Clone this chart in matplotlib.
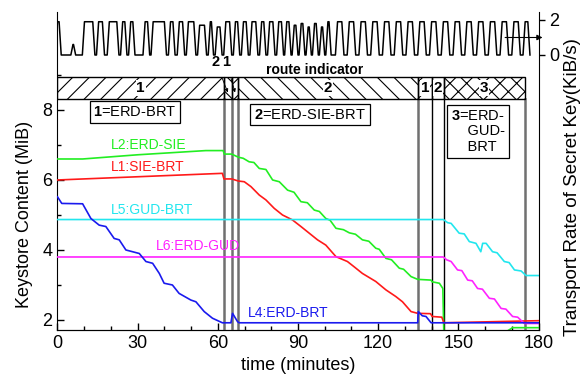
import matplotlib
matplotlib.use('Agg')
import matplotlib.pyplot as plt
from matplotlib.patches import Rectangle
from matplotlib.ticker import MultipleLocator

plt.rcParams['font.family'] = ['Liberation Sans', 'DejaVu Sans']
plt.rcParams['mathtext.fontset'] = 'custom'
plt.rcParams['mathtext.rm'] = 'Liberation Sans'
plt.rcParams['mathtext.bf'] = 'Liberation Sans:bold'
plt.rcParams['hatch.linewidth'] = 0.8

# keystore content of each link (time in minutes, content in MiB)
L1_t = [0, 61.7, 62.3, 65.2, 67.7, 69.9, 72.4, 75.5, 78.0, 81.1, 84.2, 87.9, 91.1, 94.2,
        97.3, 100.4, 104.2, 108.5, 111.0, 114.1, 119.1, 122.9, 126.6, 129.1, 132.3, 134.8,
        139.6, 140.2, 143.8, 144.6, 180]
L1_v = [6.0, 6.19, 6.03, 6.03, 5.97, 5.95, 5.81, 5.57, 5.43, 5.19, 5.0, 4.86, 4.67, 4.48,
        4.29, 4.14, 3.81, 3.67, 3.52, 3.33, 3.1, 2.86, 2.67, 2.52, 2.24, 2.19,
        2.18, 2.1, 2.08, 1.92, 1.98]

L2_t = [0, 9.4, 30, 55.5, 62.0, 62.4, 65.2, 67.7, 69.5, 71.7, 73.5, 75.5, 78.0, 80.5, 83.0,
        86.1, 88.5, 91.1, 93.5, 96.1, 98.0, 100.4, 102.0, 104.2, 107.0, 109.2, 111.5, 114.1,
        116.5, 119.1, 120.4, 122.9, 125.0, 127.9, 129.5, 132.3, 134.8, 139.8, 140.2, 142.9,
        144.2, 144.6, 164.5, 170.3, 180]
L2_v = [6.6, 6.6, 6.72, 6.84, 6.84, 6.74, 6.74, 6.65, 6.62, 6.52, 6.5, 6.33, 6.3, 6.0, 5.95,
        5.71, 5.65, 5.38, 5.35, 5.14, 5.1, 4.9, 4.85, 4.62, 4.58, 4.49, 4.45, 4.29,
        4.25, 4.05, 4.02, 3.76, 3.72, 3.48, 3.45, 3.24, 3.16, 3.14, 3.09, 3.05,
        2.9, 1.5, 1.5, 1.78, 1.78]

L4_t = [0, 1.6, 9.4, 12.5, 15.6, 18.1, 21.2, 23.1, 25.6, 30.6, 33.1, 35.6, 38.1, 39.9, 43.0,
        45.5, 49.9, 51.8, 54.9, 58.0, 61.7, 64.9, 65.5, 67.4, 68.0, 134.8, 135.0, 136.5,
        137.9, 139.8, 180]
L4_v = [5.52, 5.33, 5.32, 4.9, 4.71, 4.67, 4.33, 4.29, 4.0, 3.9, 3.67, 3.62, 3.33, 3.05, 3.0,
        2.76, 2.57, 2.52, 2.24, 2.05, 1.92, 1.92, 2.19, 1.95, 1.92, 1.92, 2.24, 2.12,
        2.1, 1.92, 1.92]

L5_t = [0, 144.4, 146.0, 147.3, 150.3, 152.2, 154.1, 156.6, 158.4, 159.1, 160.4, 162.8,
        164.5, 167.2, 169.0, 171.0, 173.5, 175.3, 180]
L5_v = [4.87, 4.87, 4.78, 4.76, 4.48, 4.46, 4.24, 4.19, 3.95, 4.19, 4.19, 3.95,
        3.92, 3.67, 3.64, 3.43, 3.4, 3.27, 3.27]

L6_t = [0, 144.4, 145.6, 147.3, 149.7, 151.3, 153.5, 155.2, 157.2, 159.0, 161.6, 163.5,
        166.0, 167.8, 170.3, 172.2, 174.7, 180]
L6_v = [3.8, 3.8, 3.72, 3.67, 3.43, 3.41, 3.14, 3.12, 2.9, 2.88, 2.62, 2.6,
        2.33, 2.31, 2.1, 2.08, 1.9, 1.9]

# route switching times and route used in each interval
route_bounds = [0, 62.3, 65.2, 67.7, 134.8, 140.1, 144.6, 174.9]
route_ids = [1, 2, 1, 2, 1, 2, 3]

# transport rate of secret key: pulses (start, end, top) in KiB/s
rate_pulses = [(-0.8, 1.4, 1.9), (5.0, 6.8, 0.6), (9.3, 14.0, 1.9), (14.6, 17.6, 1.9),
               (18.6, 23.0, 1.9), (23.6, 26.0, 1.9), (26.6, 29.0, 1.9), (32.0, 34.5, 1.9),
               (35.0, 40.8, 1.9), (41.5, 44.0, 1.9), (44.8, 47.6, 1.9), (48.2, 51.8, 1.9),
               (52.4, 55.8, 1.7), (56.4, 58.4, 1.9), (59.0, 61.6, 1.6), (62.2, 65.2, 1.9),
               (65.8, 68.2, 1.9), (68.8, 71.4, 1.9), (72.0, 75.0, 1.9), (75.6, 78.0, 1.9),
               (78.6, 81.4, 1.9), (82.0, 84.6, 1.9), (85.0, 87.4, 1.9), (87.8, 90.0, 1.7),
               (90.4, 92.6, 1.8), (93.0, 95.0, 1.6), (95.4, 97.6, 1.8), (98.0, 100.0, 1.6),
               (100.4, 102.4, 1.9), (104.0, 107.2, 1.9), (108.4, 111.6, 1.9),
               (112.8, 116.0, 1.9), (117.2, 120.4, 1.9), (121.6, 124.8, 1.9),
               (126.0, 129.2, 1.9), (130.4, 133.6, 1.9), (134.8, 138.0, 1.9),
               (139.2, 142.4, 1.9), (143.6, 146.8, 1.9), (148.0, 151.2, 1.9),
               (152.4, 155.6, 1.9), (156.8, 160.0, 1.9), (161.2, 164.4, 1.9),
               (165.6, 168.8, 1.9), (170.0, 173.2, 1.9), (174.2, 176.8, 1.9)]

sig_t, sig_v = [], []
for a, b, top in rate_pulses:
    r = min(0.8, (b - a) / 2)
    sig_t += [a, a + r, b - r, b]
    sig_v += [0, top, top, 0]

fig = plt.figure(figsize=(5.83, 3.83), dpi=100)
ax = fig.add_axes([0.0986, 0.1384, 0.8251, 0.8303])
ax.set_xlim(0, 180)
ax.set_ylim(1.714, 10.8)

# vertical lines at route switches
for t in route_bounds[1:]:
    if t in (140.1, 144.6):
        ax.plot([t, t], [1.714, 8.3], color='black', lw=1.0, zorder=3)
    else:
        ax.plot([t, t], [1.714, 8.3], color='#707070', lw=1.8, zorder=3)

ax.plot(L2_t, L2_v, color='#22ee22', lw=1.2, zorder=4)
ax.plot(L1_t, L1_v, color='#ff1a1a', lw=1.2, zorder=4)
ax.plot(L5_t, L5_v, color='#22e6ee', lw=1.2, zorder=4)
ax.plot(L6_t, L6_v, color='#ff22ff', lw=1.2, zorder=4)
ax.plot(L4_t, L4_v, color='#1a1aee', lw=1.2, zorder=4)

# route indicator band
hatches = {1: '//', 2: '\\\\', 3: 'xx'}
for i, rid in enumerate(route_ids):
    a, b = route_bounds[i], route_bounds[i + 1]
    ax.add_patch(Rectangle((a, 8.3), b - a, 0.65, fill=False, hatch=hatches[rid],
                           edgecolor='black', lw=1.0, zorder=3))
    if b - a > 4:
        ax.text((a + b) / 2, 8.63, str(rid), ha='center', va='center', fontsize=11,
                fontweight='bold', zorder=5,
                bbox=dict(boxstyle='square,pad=0.05', fc='white', ec='none'))

ax.annotate('2', xy=(63.75, 8.5), xytext=(59.2, 9.37), ha='center', va='center',
            fontsize=10.5, fontweight='bold',
            arrowprops=dict(arrowstyle='-|>', lw=0.6, color='black', mutation_scale=5,
                            shrinkA=5, shrinkB=0))
ax.annotate('1', xy=(66.45, 8.5), xytext=(63.2, 9.37), ha='center', va='center',
            fontsize=10.5, fontweight='bold',
            arrowprops=dict(arrowstyle='-|>', lw=0.6, color='black', mutation_scale=5,
                            shrinkA=5, shrinkB=0))
ax.text(96.2, 9.14, 'route indicator', ha='center', va='center', fontsize=10,
        fontweight='bold')

box = dict(boxstyle='square,pad=0.25', fc='white', ec='black', lw=0.9)
ax.text(29, 7.94, r'$\mathbf{1}$=ERD-BRT', ha='center', va='center', fontsize=10.5,
        bbox=box, zorder=5)
ax.text(94.5, 7.87, r'$\mathbf{2}$=ERD-SIE-BRT', ha='center', va='center', fontsize=10.5,
        bbox=box, zorder=5)
ax.text(157.4, 7.39, '$\\mathbf{3}$=ERD-\n    GUD-\n    BRT', ha='center', va='center',
        multialignment='left', fontsize=10.5, linespacing=1.15, bbox=box, zorder=5)

# line labels
ax.text(20.0, 7.0, 'L2:ERD-SIE', color='#22ee22', fontsize=10, va='center')
ax.text(20.0, 6.36, 'L1:SIE-BRT', color='#ff1a1a', fontsize=10, va='center')
ax.text(20.0, 5.14, 'L5:GUD-BRT', color='#22e6ee', fontsize=10, va='center')
ax.text(36.9, 4.11, 'L6:ERD-GUD', color='#ff22ff', fontsize=10, va='center')
ax.text(71.4, 2.21, 'L4:ERD-BRT', color='#1a1aee', fontsize=10, va='center')

ax.set_xticks([0, 30, 60, 90, 120, 150, 180])
ax.xaxis.set_minor_locator(MultipleLocator(10))
ax.set_yticks([2, 4, 6, 8])
ax.set_yticks([3, 5, 7, 9], minor=True)
ax.tick_params(which='major', direction='in', length=5, width=1, labelsize=13,
               right=False, top=False)
ax.tick_params(which='minor', direction='in', length=3, width=1, right=False, top=False)
ax.spines['top'].set_visible(False)
ax.spines['right'].set_visible(False)
ax.set_xlabel('time (minutes)', fontsize=13, labelpad=4)
ax.set_ylabel('Keystore Content (MiB)', fontsize=13)
ax.yaxis.set_label_coords(-0.05, 0.362)

# transport rate on the twin axis
ax2 = ax.twinx()
ax2.set_ylim(-15.71, 2.457)
ax2.plot(sig_t, sig_v, color='black', lw=1.1)
ax2.set_yticks([0, 2])
ax2.tick_params(direction='out', length=4, width=1, labelsize=13)
ax2.spines['top'].set_visible(False)
ax2.spines['left'].set_visible(False)
ax2.annotate('', xy=(181.5, 1.0), xytext=(167.5, 1.0), annotation_clip=False,
             arrowprops=dict(arrowstyle='-|>', lw=0.8, color='black', mutation_scale=8,
                             shrinkA=0, shrinkB=0))
ax2.set_ylabel('Transport Rate of Secret Key(KiB/s)', fontsize=13.5)
ax2.yaxis.set_label_coords(1.052, 0.45)

fig.savefig('out.png', dpi=100)
